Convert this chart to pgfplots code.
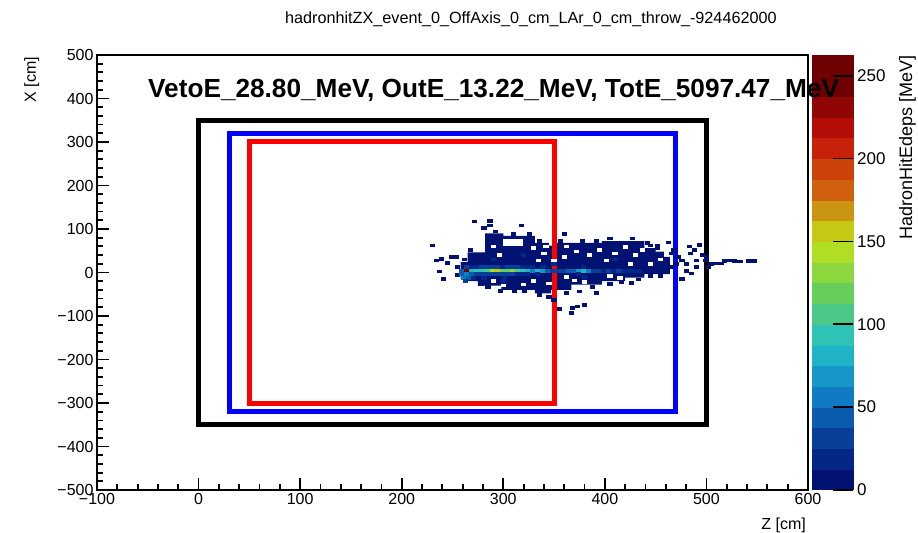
\documentclass[border=0pt]{standalone}
\usepackage{pgfplots}
\pgfplotsset{compat=1.18}
\usepackage{fontspec}
\setmainfont{Liberation Sans}
\definecolor{navybin}{RGB}{2,18,115}
\pgfdeclareplotmark{bin}{\pgfpathrectangle{\pgfpoint{-2.6bp}{-1.8bp}}{\pgfpoint{5.2bp}{3.6bp}}\pgfusepathqfill}
\begin{document}
\begin{tikzpicture}
\useasboundingbox (-97bp,-43bp) rectangle (821bp,490bp);
\begin{axis}[
 at={(0,0)}, anchor=south west,
 width=711bp, height=435bp, scale only axis,
 xmin=-100, xmax=600, ymin=-500, ymax=500,
 xtick={-100,0,...,600}, ytick={-500,-400,...,500},
 xticklabels={−100,0,100,200,300,400,500,600},
 yticklabels={−500,−400,−300,−200,−100,0,100,200,300,400,500},
 minor x tick num=4, minor y tick num=4,
 tick align=inside, tick pos=left,
 major tick length=12bp, minor tick length=6bp,
 every tick/.style={black, line width=1.8bp},
 axis line style={line width=2bp},
 ticklabel style={font=\fontsize{16bp}{16bp}\selectfont},
 colormap={rootrain}{rgb255=(2,18,115) rgb255=(4,38,133) rgb255=(7,63,153) rgb255=(11,92,174) rgb255=(15,123,197) rgb255=(23,151,199) rgb255=(31,179,200) rgb255=(47,195,181) rgb255=(75,200,135) rgb255=(102,206,90) rgb255=(140,214,62) rgb255=(176,222,37) rgb255=(198,201,20) rgb255=(203,148,17) rgb255=(208,96,13) rgb255=(205,65,11) rgb255=(201,32,9) rgb255=(180,13,7) rgb255=(144,6,4) rgb255=(110,0,2) rgb255=(110,0,2)},
 colormap access=piecewise constant,
 point meta min=0, point meta max=262.5,
 colorbar,
 colorbar style={
   at={(parent axis.north east)}, anchor=north west, xshift=-4.5bp,
   scale only axis, width=41bp, height=435bp,
   ytick={0,50,...,250}, yticklabels={0,50,100,150,200,250},
   ytick pos=right, yticklabel pos=right,
   tick align=inside, major tick length=20bp,
   axis line style={draw=none},
   every tick/.style={black, line width=1.8bp},
   yticklabel style={font=\fontsize{17bp}{17bp}\selectfont, anchor=west, inner sep=0pt, xshift=4bp},
   minor y tick num=0,
 },
]
% dense envelope of the hit cloud (lowest band)
\addplot[draw=none, fill=navybin] coordinates {
(258,-14) (258,24) (265,24) (265,46) (282,46) (282,90) (300,90) (300,84) (331,84) (331,68) (345,68) (345,62) (352,62) (352,68) (397,68) (397,72) (439,72) (439,56) (450,56) (450,48) (458,48) (458,36) (464,36) (464,-4) (439,-4) (439,-12) (420,-12) (420,-20) (397,-20) (397,-28) (367,-28) (367,-40) (347,-40) (347,-48) (331,-48) (331,-40) (298,-40) (298,-30) (275,-30) (275,-20) (265,-20) (265,-14)};
% empty bins inside the cloud
\addplot[only marks, mark=bin, color=white, fill=white] coordinates {
(302,64) (307,64) (312,64) (317,64) (302,72) (307,72) (312,72) (317,72)
(330,56) (342,60) (362,60) (335,28) (360,36) (395,52) (410,44) (420,58) (430,40)
(370,-18) (380,-22) (345,-25) (300,-30) (290,-20) (415,-12) (350,28) (445,20) (455,30) (385,40) (320,-28)
(290,60) (296,40) (340,44) (372,48) (402,28) (425,20) (437,52) (362,-10) (330,-20) (405,-8)};
% hit bins
\addplot[scatter, only marks, mark=bin, point meta=explicit,
  scatter/use mapped color={draw=none, fill=mapped color}] table[meta=c] {
z x c
272 117 5
287 118 5
287 108 5
281 102 5
318 108 5
360 88 5
230 62 5
234 28 5
239 31 5
249 36 5
254 36 5
245 22 5
237 2 5
241 -15 5
262 30 5
255 12 5
255 -6 5
268 52 5
292 94 5
310 88 5
326 88 5
336 72 5
356 72 5
378 72 5
392 72 5
405 78 5
427 78 5
445 62 5
452 56 5
297 -43 5
311 -44 5
321 -42 5
336 -52 5
345 -56 5
350 -63 5
355 -84 5
362 -47 5
368 -82 5
373 -78 5
380 -75 5
367 -93 5
392 -47 5
375 -44 5
388 -33 5
405 -26 5
416 -22 5
426 -24 5
433 -16 5
445 -8 5
455 -8 5
285 -34 5
278 -26 5
442 68 5
463 69 5
452 62 5
468 52 5
466 44 5
472 36 5
470 20 5
476 28 5
480 20 5
484 44 5
483 60 5
488 52 5
493 63 5
496 40 5
490 28 5
499 28 5
502 12 5
490 12 5
476 -15 5
466 12 5
480 4 5
485 -2 5
510 21 5
515 21 5
518 26 5
523 28 5
528 27 5
533 25 5
542 27 5
547 27 5
500 36 5
505 20 5
290 30 15
320 40 16
350 20 15
410 30 15
300 -20 16
380 -10 15
259 4 45
264 4 250
269 4 80
274 4 90
279 4 95
284 4 105
289 4 140
294 4 150
299 4 115
304 4 120
309 4 135
314 4 105
319 4 95
324 4 80
329 4 60
334 4 80
339 4 65
344 4 40
349 4 35
354 4 30
359 4 35
364 4 40
369 4 45
374 4 70
379 4 80
384 4 55
389 4 35
394 4 28
399 4 22
404 4 30
409 4 18
414 4 25
419 4 16
424 4 20
429 4 15
434 4 18
264 12 30
269 12 18
274 12 22
279 12 30
284 12 28
289 12 35
294 12 30
299 12 22
304 12 28
309 12 35
314 12 25
319 12 20
324 12 16
329 12 15
339 12 15
379 12 16
259 -4 40
264 -4 60
269 -4 45
274 -4 28
279 -4 30
284 -4 32
289 -4 35
294 -4 28
299 -4 25
304 -4 30
309 -4 28
314 -4 22
319 -4 18
324 -4 16
334 -4 16
374 -4 15
261 -12 55
266 -12 45
271 -12 20
263 -20 30
281 -12 15
301 -12 16
};
% detector boxes
\addplot[black, line width=5bp, line join=miter] coordinates {(0,-350) (500,-350) (500,350) (0,350) (0,-350) (500,-350)};
\addplot[blue, line width=5bp, line join=miter] coordinates {(30,-320) (470,-320) (470,320) (30,320) (30,-320) (470,-320)};
\addplot[red, line width=5bp, line join=miter] coordinates {(50,-300) (350,-300) (350,300) (50,300) (50,-300) (350,-300)};
\end{axis}
\node[anchor=base west, inner sep=0pt, font=\fontsize{16.2bp}{16.2bp}\selectfont] at (188bp,466bp) {hadronhitZX\_event\_0\_OffAxis\_0\_cm\_LAr\_0\_cm\_throw\_-924462000};
\node[anchor=base west, inner sep=0pt, font=\bfseries\fontsize{26.2bp}{26.2bp}\selectfont] at (51bp,392bp) {VetoE\_28.80\_MeV, OutE\_13.22\_MeV, TotE\_5097.47\_MeV};
\node[anchor=base east, inner sep=0pt, font=\fontsize{16bp}{16bp}\selectfont] at (709bp,-39bp) {Z [cm]};
\node[rotate=90, anchor=base east, inner sep=0pt, font=\fontsize{16bp}{16bp}\selectfont] at (-61bp,433bp) {X [cm]};
\node[rotate=90, anchor=base east, inner sep=0pt, font=\fontsize{18bp}{18bp}\selectfont] at (815bp,435bp) {HadronHitEdeps [MeV]};
\end{tikzpicture}
\end{document}
